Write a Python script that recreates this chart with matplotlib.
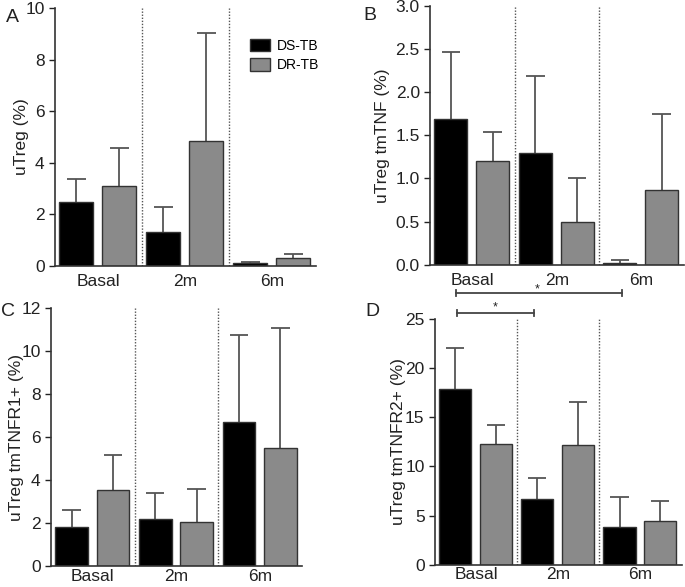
import matplotlib.pyplot as plt
import numpy as np
from matplotlib.patches import Patch

plt.rcParams["font.family"] = ["Liberation Sans", "DejaVu Sans"]

groups = ["Basal", "2m", "6m"]
series = ["DS-TB", "DR-TB"]

# mean and top of the upper error bar, per panel
utreg_ds = [2.49, 1.32, 0.10]
utreg_ds_top = [3.39, 2.27, 0.17]
utreg_dr = [3.11, 4.84, 0.30]
utreg_dr_top = [4.56, 9.04, 0.45]

tnf_ds = [1.69, 1.29, 0.02]
tnf_ds_top = [2.47, 2.19, 0.05]
tnf_dr = [1.20, 0.50, 0.87]
tnf_dr_top = [1.54, 1.00, 1.75]

r1_ds = [1.82, 2.20, 6.69]
r1_ds_top = [2.62, 3.40, 10.75]
r1_dr = [3.54, 2.03, 5.51]
r1_dr_top = [5.15, 3.58, 11.10]

r2_ds = [17.86, 6.67, 3.84]
r2_ds_top = [22.07, 8.83, 6.84]
r2_dr = [12.30, 12.13, 4.41]
r2_dr_top = [14.20, 16.58, 6.50]

EDGE = "#333333"
GREY = "#8a8a8a"
TXT = "#222222"
ERR = "#555555"

W, H = 685, 587
fig = plt.figure(figsize=(W / 100, H / 100), dpi=100)

ax_a = fig.add_axes([0.0803, 0.547, 0.381, 0.439])
ax_b = fig.add_axes([0.628, 0.549, 0.370, 0.441])
ax_c = fig.add_axes([0.0745, 0.036, 0.3665, 0.439])
ax_d = fig.add_axes([0.635, 0.038, 0.360, 0.4186])


def draw_panel(ax, ds, ds_top, dr, dr_top, ymax, ystep, ylabel, fmt, labelpad, xpad):
    x = np.arange(len(groups))
    w = 0.39
    cap = 0.11
    for off, vals, tops, col in [(0.245, ds, ds_top, "black"), (0.74, dr, dr_top, GREY)]:
        ax.bar(x + off, vals, width=w, color=col, edgecolor=EDGE, linewidth=1.0, zorder=2)
        ax.vlines(x + off, vals, tops, color=ERR, linewidth=1.3, zorder=1)
        ax.hlines(tops, x + off - cap, x + off + cap, color=ERR, linewidth=1.3, zorder=1)
    for d in (1, 2):
        ax.axvline(d, color="#555555", linestyle=(0, (1, 1.2)), linewidth=1.0, zorder=0)
    ticks = np.arange(0, ymax + ystep / 2, ystep)
    ax.set_xlim(0, 3)
    ax.set_ylim(0, ymax)
    ax.set_yticks(ticks)
    ax.set_yticklabels([fmt.format(v) for v in ticks])
    ax.set_xticks(x + 0.5)
    ax.set_xticklabels(groups)
    ax.tick_params(axis="x", length=0, labelsize=12.5, colors=TXT, pad=xpad)
    ax.tick_params(axis="y", length=4, width=1.0, labelsize=12.5, colors=TXT, direction="out")
    for s in ("top", "right"):
        ax.spines[s].set_visible(False)
    for s in ("left", "bottom"):
        ax.spines[s].set_color(EDGE)
        ax.spines[s].set_linewidth(1.2)
    ax.set_ylabel(ylabel, fontsize=12.5, color=TXT, labelpad=labelpad)


draw_panel(ax_a, utreg_ds, utreg_ds_top, utreg_dr, utreg_dr_top, 10, 2, "uTreg (%)", "{:.0f}", -3, 6)
draw_panel(ax_b, tnf_ds, tnf_ds_top, tnf_dr, tnf_dr_top, 3.0, 0.5, "uTreg tmTNF (%)", "{:.1f}", 4, 6)
draw_panel(ax_c, r1_ds, r1_ds_top, r1_dr, r1_dr_top, 12, 2, "uTreg tmTNFR1+ (%)", "{:.0f}", -2, 2)
draw_panel(ax_d, r2_ds, r2_ds_top, r2_dr, r2_dr_top, 25, 5, "uTreg tmTNFR2+ (%)", "{:.0f}", -1, 2)

# legend in panel A
handles = [Patch(facecolor="black", edgecolor=EDGE), Patch(facecolor=GREY, edgecolor=EDGE)]
ax_a.legend(handles, series, loc="upper right", bbox_to_anchor=(1.06, 0.93), frameon=False,
            fontsize=10, handlelength=1.4, handleheight=1.0, handletextpad=0.5, labelspacing=0.4)

# panel letters
for lbl, (px, py) in zip("ABCD", [(12, 18), (370, 16), (8, 311), (372, 311)]):
    fig.text(px / W, 1 - py / H, lbl, fontsize=14, color=TXT, ha="center", va="center")


def sig_bar(ax, x0, x1, star_x, y_px, star_y_px):
    # bracket row given in figure pixels, x in data coords
    trans = ax.get_xaxis_transform()
    inv = ax.transAxes.inverted()
    y_ax = inv.transform(fig.transFigure.transform((0, 1 - y_px / H)))[1]
    ys_ax = inv.transform(fig.transFigure.transform((0, 1 - star_y_px / H)))[1]
    tick = 0.012
    ax.plot([x0, x1], [y_ax, y_ax], color="#444444", lw=1.3, transform=trans, clip_on=False)
    for xx in (x0, x1):
        ax.plot([xx, xx], [y_ax - tick, y_ax + tick], color="#444444", lw=1.3,
                transform=trans, clip_on=False)
    ax.text(star_x, ys_ax, "*", transform=trans, ha="center", va="center",
            fontsize=9, color=TXT)


sig_bar(ax_b, 0.31, 2.27, 1.27, 293, 289)
sig_bar(ax_d, 0.27, 1.20, 0.73, 313, 307)

fig.savefig("out.png", dpi=100)
